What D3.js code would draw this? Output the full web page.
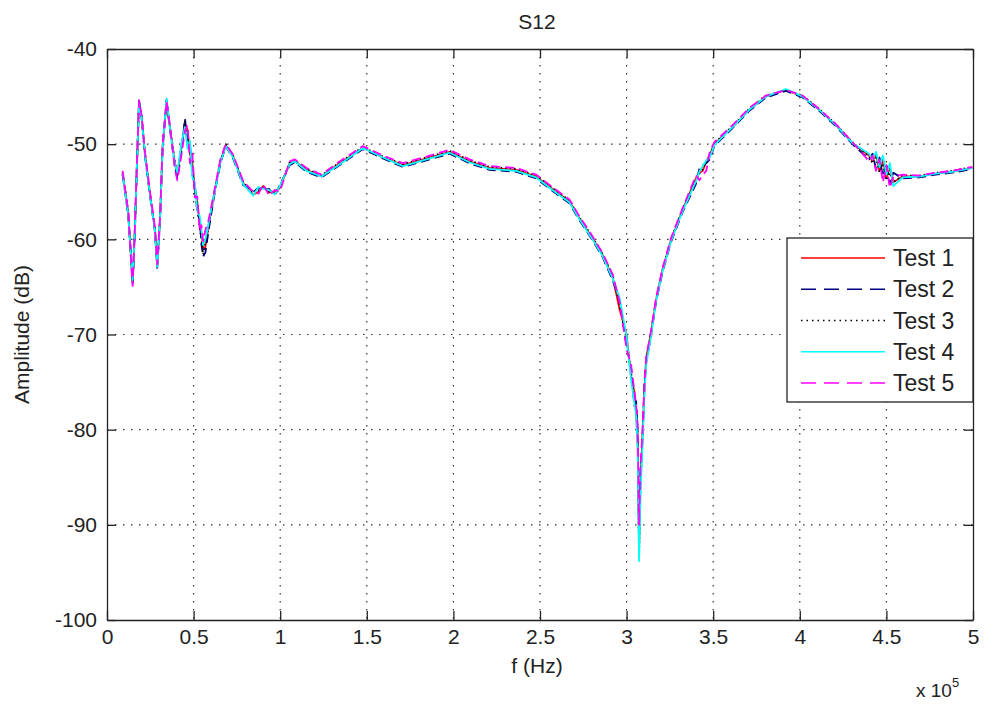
<!DOCTYPE html>
<html>
<head>
<meta charset="utf-8">
<script src="https://cdn.jsdelivr.net/npm/d3@7"></script>
<style>
  html, body { margin: 0; padding: 0; background: #fff; }
  svg { display: block; font-family: "Liberation Sans", Arial, sans-serif; }
</style>
</head>
<body>
<svg id="chart" width="985" height="704"></svg>
<script>
// ---------- data ----------
const titleText = "S12";
const xLabel = "f (Hz)";
const yLabel = "Amplitude (dB)";
const xTicks = [0, 50000, 100000, 150000, 200000, 250000, 300000, 350000, 400000, 450000, 500000];
const xTickLabels = ["0", "0.5", "1", "1.5", "2", "2.5", "3", "3.5", "4", "4.5", "5"];
const yTicks = [-100, -90, -80, -70, -60, -50, -40];
const yTickLabels = ["-100", "-90", "-80", "-70", "-60", "-50", "-40"];
const seriesNames = ["Test 1", "Test 2", "Test 3", "Test 4", "Test 5"];

const freqs = [
  9000, 10400, 12300, 14200, 14800, 16100, 17100, 18500, 20000, 21900,
  24800, 27700, 29000, 30600, 32100, 34400, 36300, 39200, 40600, 43100,
  45000, 46500, 47900, 49300, 50700, 52100, 53600, 54500, 55500, 56800,
  58400, 60300, 62300, 65500, 68600, 72800, 78600, 84400, 87500, 90200,
  93500, 96900, 99800, 105500, 108400, 115200, 123800, 134400, 147800, 159300,
  170900, 184400, 197800, 209300, 220900, 236300, 247800, 259300, 267000, 272800,
  280000, 286000, 292000, 296000, 300000, 302600, 304500, 305500, 306400, 306800,
  307200, 308000, 309300, 310300, 311300, 314100, 317000, 320800, 325600, 332400,
  340000, 342000, 344000, 346000, 348000,
  350600, 361200, 370800, 380400, 392000, 401600, 411200, 420800, 430400,
  440000, 442000, 444000, 446000, 448000, 450000, 452000, 454000,
  459300, 468900, 478500, 488000, 499600
];

const test1 = [
  -53.0, -54.8, -57.3, -62.9, -64.4, -59.0, -53.1, -45.6, -47.1, -51.0,
  -55.2, -59.0, -62.8, -58.0, -50.3, -45.4, -48.2, -52.0, -53.2, -50.0,
  -47.9, -48.5, -51.0, -52.0, -54.8, -56.0, -58.6, -59.4, -61.0, -60.8,
  -58.8, -56.8, -54.8, -51.8, -50.1, -51.3, -54.1, -55.3, -55.0, -54.4,
  -55.1, -55.0, -54.6, -52.0, -51.8, -52.7, -53.4, -52.0, -50.4, -51.4,
  -52.2, -51.5, -50.8, -51.8, -52.5, -52.7, -53.4, -55.0, -56.0, -57.8,
  -59.8, -61.6, -64.0, -67.4, -70.0, -74.5, -76.0, -78.2, -81.5, -88.0,
  -92.5, -85.5, -80.0, -75.8, -72.5, -69.8, -66.4, -63.2, -60.1, -56.9,
  -53.6, -53.0, -52.8, -51.8, -51.1,
  -50.0, -48.2, -46.4, -45.0, -44.3, -45.0, -46.4, -48.0, -49.9,
  -51.2, -51.8, -51.0, -52.8, -51.6, -53.6, -52.4, -54.0,
  -53.4, -53.4, -53.1, -52.9, -52.5
];

const test2 = [
  -53.2, -55.0, -57.6, -62.5, -64.8, -59.3, -53.4, -45.4, -47.3, -51.2,
  -55.4, -59.2, -63.0, -58.2, -50.5, -45.5, -48.4, -52.3, -53.6, -50.6,
  -47.3, -49.8, -50.0, -53.2, -54.2, -57.2, -58.0, -60.5, -61.8, -61.4,
  -59.4, -57.2, -55.0, -52.0, -50.2, -51.5, -54.3, -55.0, -54.6, -54.8,
  -54.7, -55.4, -54.3, -52.2, -51.9, -52.9, -53.5, -52.2, -50.5, -51.5,
  -52.4, -51.7, -51.0, -52.0, -52.7, -52.9, -53.6, -55.2, -56.2, -58.0,
  -60.0, -61.8, -64.3, -66.5, -71.2, -73.6, -77.5, -77.0, -80.2, -86.0,
  -91.0, -84.5, -80.8, -75.0, -73.0, -70.1, -66.6, -63.4, -60.3, -57.1,
  -54.2, -52.6, -52.2, -52.0, -51.6,
  -50.2, -48.3, -46.5, -45.1, -44.4, -45.1, -46.5, -48.1, -50.0,
  -51.6, -51.0, -52.6, -51.4, -53.4, -52.0, -54.2, -53.0,
  -53.6, -53.5, -53.2, -53.0, -52.6
];

const test3 = [
  -53.1, -54.6, -57.2, -63.1, -64.6, -58.8, -53.0, -45.5, -47.0, -50.9,
  -55.1, -58.9, -62.7, -57.9, -50.2, -45.3, -48.1, -51.8, -53.4, -50.4,
  -47.6, -49.2, -50.8, -52.6, -55.0, -56.4, -58.9, -59.8, -61.6, -60.2,
  -59.0, -57.0, -54.7, -51.7, -50.0, -51.2, -54.0, -55.2, -54.9, -54.5,
  -55.0, -55.2, -54.5, -51.9, -51.7, -52.6, -53.3, -51.9, -50.3, -51.3,
  -52.1, -51.4, -50.7, -51.7, -52.4, -52.6, -53.3, -54.9, -55.9, -57.7,
  -59.7, -61.5, -63.8, -66.9, -70.6, -74.0, -76.8, -77.8, -80.8, -87.5,
  -93.2, -86.0, -80.4, -75.6, -72.8, -69.9, -66.3, -63.1, -60.0, -56.8,
  -53.8, -53.1, -52.6, -51.9, -51.3,
  -49.9, -48.1, -46.3, -44.9, -44.3, -44.9, -46.3, -47.9, -49.8,
  -51.3, -52.0, -51.4, -53.0, -52.0, -53.8, -53.0, -54.0,
  -53.3, -53.3, -53.0, -52.8, -52.4
];

const test4 = [
  -53.0, -54.9, -57.4, -62.7, -64.3, -59.1, -53.2, -45.8, -47.2, -51.1,
  -55.3, -59.1, -62.9, -58.1, -50.4, -45.2, -48.3, -52.1, -53.0, -49.8,
  -48.2, -50.5, -49.6, -53.5, -54.0, -57.0, -57.6, -59.0, -60.6, -60.0,
  -58.6, -56.7, -54.9, -51.9, -50.2, -51.4, -54.2, -55.4, -54.5, -54.7,
  -54.8, -55.3, -54.4, -52.1, -51.8, -52.8, -53.4, -52.1, -50.4, -51.4,
  -52.3, -51.6, -50.9, -51.9, -52.6, -52.8, -53.5, -55.1, -56.1, -57.9,
  -59.9, -61.7, -64.1, -66.2, -70.2, -74.8, -77.2, -78.5, -82.0, -88.5,
  -93.8, -87.0, -81.0, -76.2, -73.2, -70.2, -66.5, -63.3, -60.2, -57.0,
  -53.9, -52.9, -52.3, -51.7, -51.4,
  -50.1, -48.2, -46.4, -45.0, -44.2, -45.0, -46.4, -48.0, -49.9,
  -51.0, -51.6, -50.8, -52.4, -51.2, -53.2, -52.0, -54.4,
  -53.5, -53.4, -53.1, -52.9, -52.5
];

const test5 = [
  -52.8, -54.7, -57.1, -63.3, -64.9, -58.7, -52.9, -45.4, -47.0, -50.8,
  -55.0, -58.8, -62.6, -57.8, -50.1, -45.5, -48.0, -52.6, -53.8, -51.0,
  -48.6, -48.0, -52.0, -51.0, -55.6, -55.5, -59.2, -58.5, -60.2, -59.0,
  -58.2, -56.5, -54.6, -51.6, -50.0, -51.1, -53.9, -55.0, -55.2, -54.2,
  -55.4, -54.8, -55.0, -51.8, -51.6, -52.5, -53.2, -51.8, -50.2, -51.2,
  -52.0, -51.3, -50.6, -51.6, -52.3, -52.5, -53.2, -54.8, -55.8, -57.6,
  -59.6, -61.4, -63.7, -66.6, -71.5, -73.2, -76.0, -77.4, -79.5, -85.0,
  -90.0, -84.0, -79.6, -75.2, -72.4, -69.6, -66.2, -63.0, -59.9, -56.7,
  -53.3, -53.8, -53.2, -52.8, -50.8,
  -49.8, -48.0, -46.2, -44.9, -44.3, -44.9, -46.3, -47.9, -49.8,
  -51.8, -51.2, -52.8, -51.6, -54.0, -52.2, -54.6, -53.4,
  -53.2, -53.3, -53.0, -52.8, -52.4
];

const seriesValues = [test1, test2, test3, test4, test5];
const seriesColors = ["#ff0000", "#00007f", "#000000", "#00ffff", "#ff00ff"];
const seriesDash = [null, "9,5", "1.5,3", null, "9,5"];

// ---------- layout ----------
const svg = d3.select("#chart");
const L = 107, R = 973, T = 49, B = 620;
const x = d3.scaleLinear().domain([0, 500000]).range([L, R]);
const y = d3.scaleLinear().domain([-100, -40]).range([B, T]);
const axisColor = "#222";
const fontSize = 21;

// grid
const grid = svg.append("g");
grid.selectAll("line.gx").data(xTicks.slice(1, -1)).enter().append("line")
  .attr("x1", d => x(d)).attr("x2", d => x(d)).attr("y1", T).attr("y2", B)
  .attr("stroke", "#333").attr("stroke-width", 1.2).attr("stroke-dasharray", "1.5,6.5");
grid.selectAll("line.gy").data(yTicks.slice(1, -1)).enter().append("line")
  .attr("y1", d => y(d)).attr("y2", d => y(d)).attr("x1", L).attr("x2", R)
  .attr("stroke", "#333").attr("stroke-width", 1.2).attr("stroke-dasharray", "1.5,6.5");

// series
const line = d3.line().x((d, i) => x(freqs[i])).y(d => y(d));
seriesValues.forEach((vals, k) => {
  svg.append("path").datum(vals)
    .attr("d", line)
    .attr("fill", "none")
    .attr("stroke", seriesColors[k])
    .attr("stroke-width", 1.8)
    .attr("stroke-linejoin", "round")
    .attr("stroke-dasharray", seriesDash[k]);
});

// axes (inward ticks on all four sides)
const tickLen = 9;
const fmtX = d => xTickLabels[xTicks.indexOf(d)];
const fmtY = d => yTickLabels[yTicks.indexOf(d)];
const xb = svg.append("g").attr("transform", `translate(0,${B})`)
  .call(d3.axisBottom(x).tickValues(xTicks).tickFormat(fmtX).tickSizeInner(-tickLen).tickSizeOuter(0).tickPadding(9));
const xt = svg.append("g").attr("transform", `translate(0,${T})`)
  .call(d3.axisTop(x).tickValues(xTicks).tickFormat("").tickSizeInner(-tickLen).tickSizeOuter(0));
const yl = svg.append("g").attr("transform", `translate(${L},0)`)
  .call(d3.axisLeft(y).tickValues(yTicks).tickFormat(fmtY).tickSizeInner(-tickLen).tickSizeOuter(0).tickPadding(10));
const yr = svg.append("g").attr("transform", `translate(${R},0)`)
  .call(d3.axisRight(y).tickValues(yTicks).tickFormat("").tickSizeInner(-tickLen).tickSizeOuter(0));
[xb, xt, yl, yr].forEach(g => {
  g.select(".domain").attr("stroke", axisColor).attr("stroke-width", 1.3);
  g.selectAll(".tick line").attr("stroke", axisColor).attr("stroke-width", 1.3);
  g.selectAll(".tick text").attr("fill", "#222").style("font-size", fontSize + "px")
    .style("font-family", '"Liberation Sans", Arial, sans-serif');
});

// title and labels
svg.append("text").attr("x", (L + R) / 2 - 3).attr("y", 29).attr("text-anchor", "middle")
  .style("font-size", fontSize + "px").attr("fill", "#222").text(titleText);
svg.append("text").attr("x", (L + R) / 2 - 3).attr("y", 673).attr("text-anchor", "middle")
  .style("font-size", fontSize + "px").attr("fill", "#222").text(xLabel);
svg.append("text").attr("transform", `translate(29,${(T + B) / 2}) rotate(-90)`)
  .attr("text-anchor", "middle").style("font-size", fontSize + "px").attr("fill", "#222").text(yLabel);
const mult = svg.append("text").attr("x", 916).attr("y", 697).style("font-size", "19px").attr("fill", "#222");
mult.append("tspan").text("x 10");
mult.append("tspan").attr("dy", -10).style("font-size", "13px").text("5");

// legend
const lg = svg.append("g");
const lgX = 787, lgY = 238, lgW = R - 787, lgH = 164;
lg.append("rect").attr("x", lgX).attr("y", lgY).attr("width", lgW).attr("height", lgH)
  .attr("fill", "#fff").attr("stroke", axisColor).attr("stroke-width", 1.3);
const rowY = d3.scaleLinear().domain([0, 4]).range([lgY + 20, lgY + 145]);
seriesNames.forEach((name, k) => {
  const yy = rowY(k);
  lg.append("line").attr("x1", 801).attr("x2", 885).attr("y1", yy).attr("y2", yy)
    .attr("stroke", seriesColors[k]).attr("stroke-width", 1.6)
    .attr("stroke-dasharray", seriesDash[k] ? (k === 2 ? "1.5,4" : "15,8") : null);
  lg.append("text").attr("x", 893).attr("y", yy + 8).style("font-size", "23px").attr("fill", "#222").text(name);
});
</script>
</body>
</html>
